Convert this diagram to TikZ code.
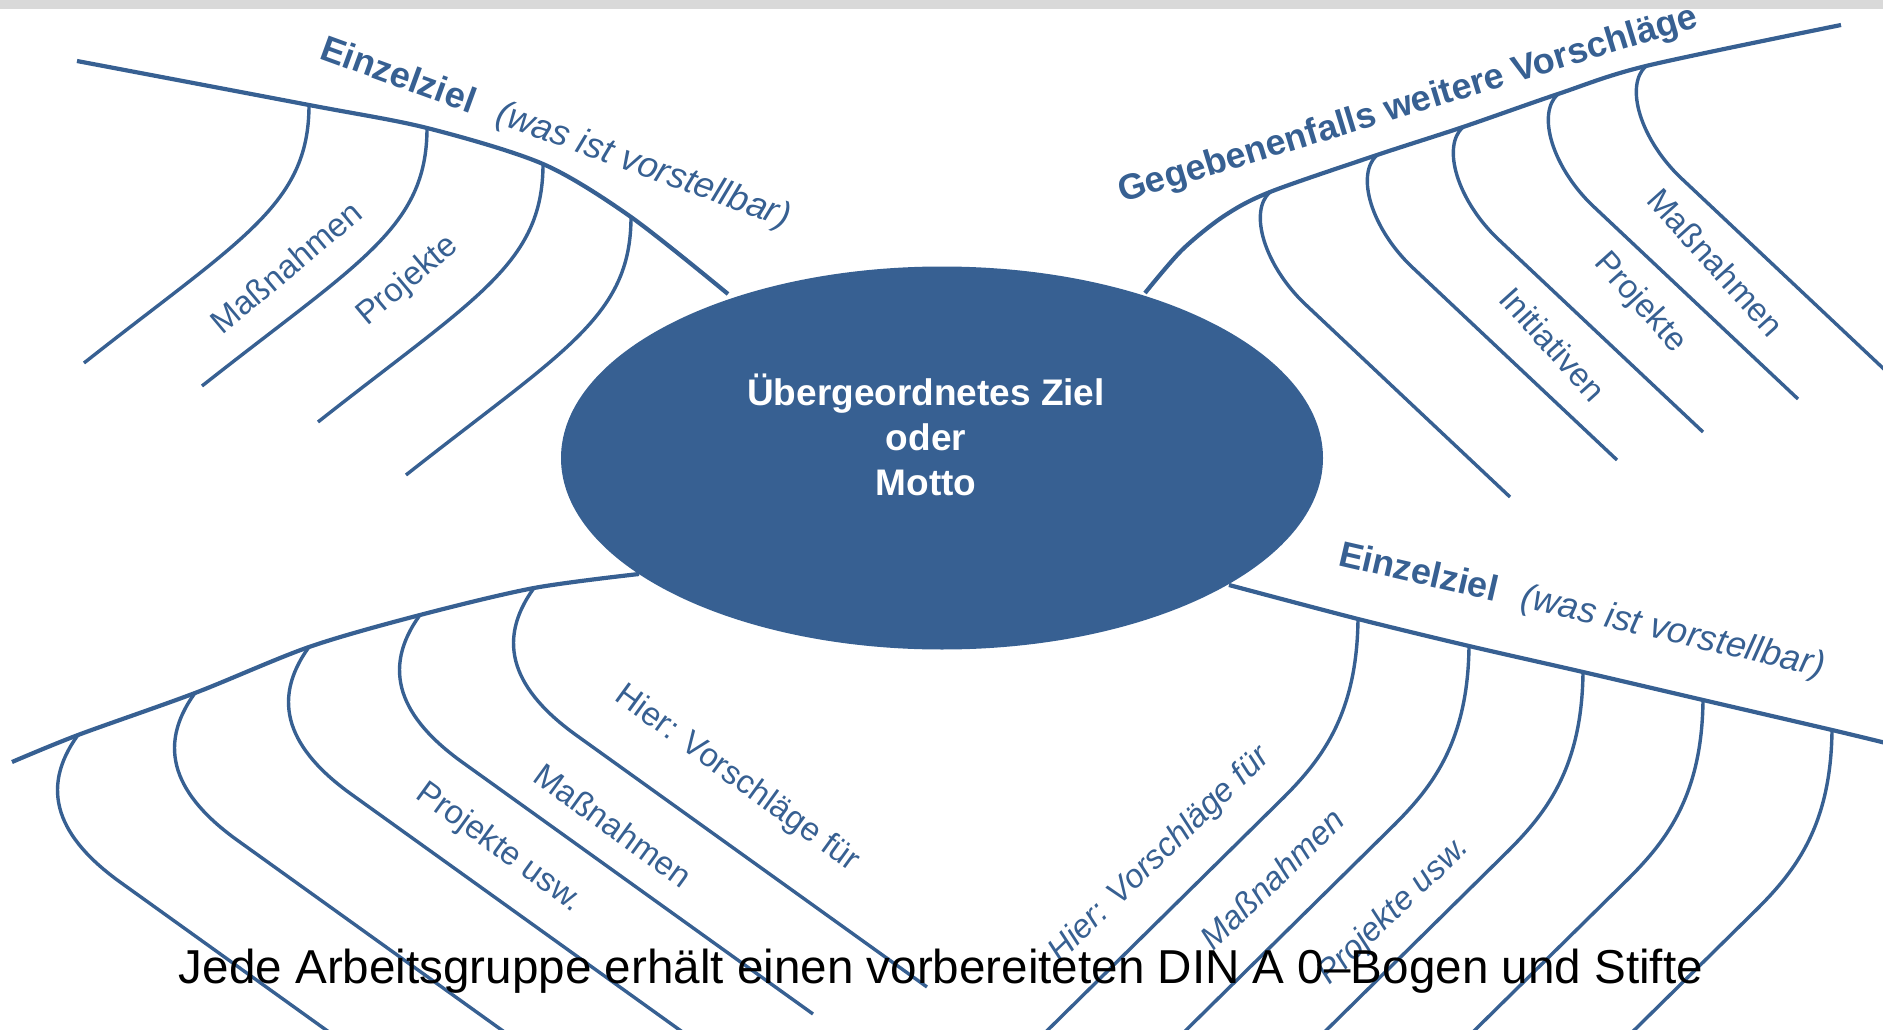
\documentclass[tikz,border=0pt]{standalone}
\usepackage{fontspec}
\setmainfont{Liberation Sans}
\usetikzlibrary{shapes.geometric,positioning}
\definecolor{slideBlue}{RGB}{55,96,146}
\definecolor{slideGrey}{RGB}{217,217,217}
\tikzset{
    mainBranch/.style={draw=slideBlue, line width=4.2pt},
    subBranch/.style={draw=slideBlue, line width=3.4pt},
    goalShape/.style={ellipse, fill=slideBlue, minimum width=762pt, minimum height=383pt, inner sep=0pt},
    goalText/.style={text=white, font=\fontsize{37}{45}\selectfont\bfseries, align=center, inner sep=0pt},
    branchTitle/.style={text=slideBlue, font=\fontsize{36}{43}\selectfont, anchor=base west, inner sep=0pt},
    subLabel/.style={text=slideBlue, font=\fontsize{33}{40}\selectfont, inner sep=0pt},
    subLabelIt/.style={subLabel, font=\fontsize{33}{40}\selectfont\itshape},
    captionText/.style={text=black, font=\fontsize{47.6}{57}\selectfont, anchor=base, inner sep=0pt}
}

\begin{document}
\begin{tikzpicture}[x=1pt, y=-1pt]

\useasboundingbox (0,0) rectangle (1883,1030);
\clip (0,0) rectangle (1883,1030);

% grey band on top
\fill[slideGrey] (0,0) rectangle (1883,9.5);

% Attach points
\foreach \i/\x/\y in {1/309/105, 2/427/128, 3/543/164, 4/631/217}
  \coordinate (tl\i) at (\x,\y);
\foreach \i/\x/\y in {1/1270/192, 2/1377/155, 3/1463/127, 4/1558/94, 5/1646/66}
  \coordinate (tr\i) at (\x,\y);
\foreach \i/\x/\y in {1/534/588, 2/420/615, 3/309/647, 4/195/693, 5/78/735}
  \coordinate (bl\i) at (\x,\y);
\foreach \i/\x/\y in {1/1358/619, 2/1469/646, 3/1583/672, 4/1703/700, 5/1832/730}
  \coordinate (br\i) at (\x,\y);

% Main branches
\draw[mainBranch] plot[smooth] coordinates {(77,61) (tl1) (tl2) (tl3) (tl4) (728,294)};
\draw[mainBranch] plot[smooth] coordinates {(1145,293) (1182,250) (1224,216) (tr1) (tr2) (tr3) (tr4) (tr5) (1841,25)};
\draw[mainBranch] plot[smooth] coordinates {(639,574) (bl1) (bl2) (bl3) (bl4) (bl5) (12,762)};
\draw[mainBranch] plot[smooth] coordinates {(1229,585) (br1) (br2) (br3) (br4) (br5) (1890,744)};

% Sub-branches
\foreach \i in {1,...,4}
  \draw[subBranch] (tl\i) .. controls +(0,100) and +(157,-124) .. ++(-225,258);
\foreach \i in {1,...,5}
  \draw[subBranch] (tr\i) .. controls +(-22,20) and +(-40,-38) .. ++(35,112) -- ++(205,193);
\foreach \i in {1,...,5}
  \draw[subBranch] (bl\i) .. controls +(-40,55) and +(-61,-44) .. ++(42,147) -- ++(351,252);
\foreach \i in {1,...,5}
  \draw[subBranch] (br\i) .. controls +(-1,100) and +(41,-40) .. ++(-81,185) -- ++(-285,281);

% Centre
\node[goalShape] (goal) at (942,458) {};
\node[goalText] (goalTxt) at (926,435) {Übergeordnetes Ziel\\oder\\Motto};

% Branch titles
\node[branchTitle, rotate=-20] (tlTitle) at (318,58) {\textbf{Einzelziel}\hspace{0.7em}\textit{(was ist vorstellbar)}};
\node[branchTitle, rotate=17] (trTitle) at (1122,203) {\textbf{Gegebenenfalls weitere Vorschläge}};
\node[branchTitle, rotate=-13] (brTitle) at (1337,565) {\textbf{Einzelziel}\hspace{0.7em}\textit{(was ist vorstellbar)}};

% Twig labels
\node[subLabel, rotate=40] (tlMass) at (286,267) {Maßnahmen};
\node[subLabel, rotate=40] (tlProj) at (408,281) {Projekte};

\node[subLabel, rotate=-48] (trMass) at (1716,262) {Maßnahmen};
\node[subLabel, rotate=-48] (trProj) at (1640,303) {Projekte};
\node[subLabel, rotate=-48] (trInit) at (1553,344) {Initiativen};

\node[subLabel, rotate=-36] (blHier) at (737,779) {Hier: Vorschläge für};
\node[subLabel, rotate=-36] (blMass) at (613,825) {Maßnahmen};
\node[subLabel, rotate=-36] (blProj) at (499,848) {Projekte usw.};

\node[subLabelIt, rotate=44] (brHier) at (1160,855) {Hier: Vorschläge für};
\node[subLabelIt, rotate=44] (brMass) at (1272,879) {Maßnahmen};
\node[subLabelIt, rotate=44] (brProj) at (1394,911) {Projekte usw.};

% Caption
\node[captionText] (caption) at (941,983) {Jede Arbeitsgruppe erhält einen vorbereiteten DIN A 0–Bogen und Stifte};

\end{tikzpicture}
\end{document}
